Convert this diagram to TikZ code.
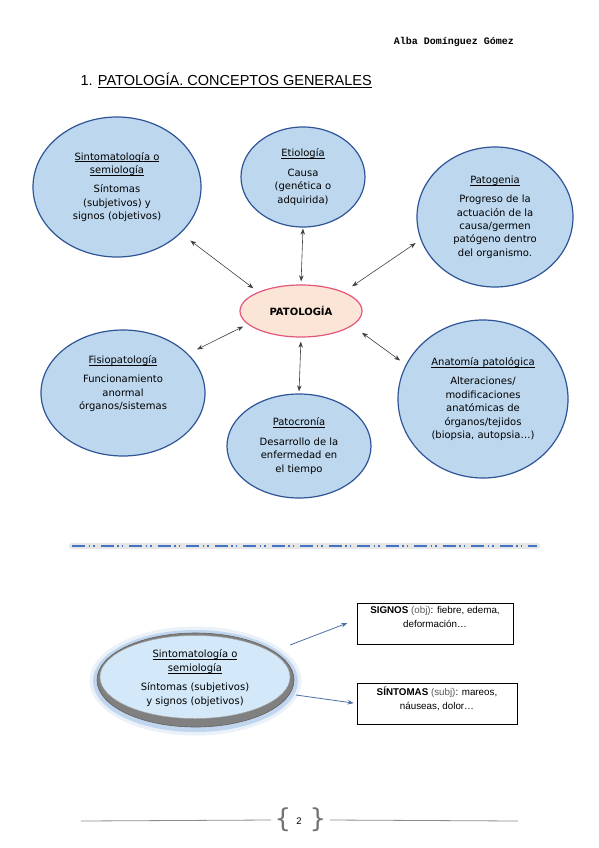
\documentclass[tikz,border=0pt]{standalone}
\usepackage{fontspec}
\setmainfont{DejaVu Sans}
\newfontfamily\arialfont{Liberation Sans}
\newfontfamily\courierfont{Liberation Mono}
\usetikzlibrary{shapes.geometric,arrows.meta,positioning}
\definecolor{ovalfill}{HTML}{BDD7EE}
\definecolor{ovalline}{HTML}{2F5597}
\definecolor{patofill}{HTML}{FBE5D6}
\definecolor{patoline}{HTML}{E4567C}
\definecolor{sepblue}{HTML}{4472C4}
\definecolor{linkblue}{HTML}{4A6FA5}
\definecolor{glowblue}{HTML}{8DB4E2}
\definecolor{semiofill}{HTML}{D3E8F8}
\newcommand\subr[1]{\leavevmode\setbox0=\hbox{#1}\rlap{\rule[-1.8pt]{\wd0}{0.5pt}}\box0}

\begin{document}
\begin{tikzpicture}[x=1pt,y=-1pt,
    oval/.style={ellipse, draw=ovalline, fill=ovalfill, line width=1.2pt,
      align=center, inner sep=0pt, font=\fontsize{10}{13.4}\selectfont},
    link/.style={{Stealth[length=6pt,width=4.5pt]}-{Stealth[length=6pt,width=4.5pt]},
      draw=black!75, line width=.6pt},
    bluelink/.style={-{Stealth[length=6pt,width=4.5pt]}, draw=linkblue, line width=.8pt},
    infobox/.style={draw=black, line width=.8pt, minimum height=41pt},
    boxtext/.style={align=center, anchor=north, inner sep=0pt,
      font=\arialfont\fontsize{9.8}{14}\selectfont},
  ]
  % \draw[help lines, gray!50, very thin] (0,0) grid[step=50] (599,848);
  \useasboundingbox[fill=white] (0,0) rectangle (599,848);

  % cabecera
  \node[font=\courierfont\bfseries\fontsize{10}{10}\selectfont] (autora) at (454,42) {Alba Domínguez Gómez};
  \node[anchor=west, font=\arialfont\fontsize{14.5}{16}\selectfont] (titulo) at (77,80)
    {1. \subr{PATOLOGÍA. CONCEPTOS GENERALES}};

  % esquema central
  \node[ellipse, draw=patoline, fill=patofill, line width=1.2pt, minimum width=122pt, minimum height=52pt,
    font=\bfseries\fontsize{10}{11}\selectfont] (pato) at (301,311) {PATOLOGÍA};

  \node[oval, minimum width=168pt, minimum height=140pt] (sinto) at (117,187)
    {\subr{Sintomatología o}\\ \subr{semiología}\\[6pt] Síntomas\\ (subjetivos) y\\ signos (objetivos)};
  \node[oval, minimum width=124pt, minimum height=100pt] (etio) at (303,177)
    {\subr{Etiología}\\[6pt] Causa\\ (genética o\\ adquirida)};
  \node[oval, minimum width=156pt, minimum height=140pt] (patog) at (495,217)
    {\subr{Patogenia}\\[6pt] Progreso de la\\ actuación de la\\ causa/germen\\ patógeno dentro\\ del organismo.};
  \node[oval, minimum width=164pt, minimum height=126pt] (fisio) at (123,393)
    {\subr{Fisiopatología}\\[6pt] Funcionamiento\\ anormal\\ órganos/sistemas\\[8pt]};
  \node[oval, minimum width=170pt, minimum height=158pt] (anat) at (483,399)
    {\subr{Anatomía patológica}\\[6pt] Alteraciones/\\ modificaciones\\ anatómicas de\\ órganos/tejidos\\ (biopsia, autopsia\ldots)};
  \node[oval, minimum width=144pt, minimum height=104pt] (patocr) at (299,446)
    {\subr{Patocronía}\\[6pt] Desarrollo de la\\ enfermedad en\\ el tiempo};

  \draw[link, shorten <=12pt, shorten >=6pt] (sinto.-36) -- (pato.156);
  \draw[link, shorten <=1pt, shorten >=3pt] (etio.south) -- (pato.north);
  \draw[link, shorten <=10pt, shorten >=6pt] (pato.24) -- (patog.197);
  \draw[link, shorten <=10pt, shorten >=5pt] (fisio.31) -- (pato.194);
  \draw[link, shorten <=12pt, shorten >=7pt] (pato.-16) -- (anat.156);
  \draw[link, shorten <=4pt, shorten >=2pt] (pato.south) -- (patocr.north);

  % separador
  \coordinate (sepa) at (72,546);
  \coordinate (sepb) at (537,546);
  \draw[gray!20, line width=6pt, line cap=round] (sepa) -- (sepb);
  \draw[sepblue, line width=2.5pt, dash pattern=on 13pt off 3.5pt on 1.5pt off 3pt on 1.5pt off 6pt] (sepa) -- (sepb);

  % sintomatologia: signos y sintomas
  \node[ellipse, fill=glowblue, opacity=.18, minimum width=212pt, minimum height=109pt] (semioglow) at (195.5,681) {};
  \node[ellipse, fill=glowblue, opacity=.45, minimum width=205pt, minimum height=102pt] (semiohalo) at (195.5,681) {};
  \node[ellipse, fill=black!50, draw=black!62, line width=.6pt, minimum width=197pt, minimum height=94pt] (semioring) at (195.5,680) {};
  \node[ellipse, fill=semiofill, draw=black!35, line width=.4pt, minimum width=190pt, minimum height=83pt] (semio) at (195,677) {};
  \node[align=center, font=\fontsize{10}{13.4}\selectfont] (semiotxt) at (195,678)
    {\subr{Sintomatología o}\\ \subr{semiología}\\[6pt] Síntomas (subjetivos)\\ y signos (objetivos)};

  \node[infobox, minimum width=156pt] (signos) at (435,623.5) {};
  \node[boxtext, below=4pt of signos.north] (signostxt)
    {\textbf{SIGNOS} {\color{black!65}(obj)}: fiebre, edema,\\ deformación\ldots};
  \node[infobox, minimum width=160pt] (sintomas) at (437,703.5) {};
  \node[boxtext, below=4pt of sintomas.north] (sintomastxt)
    {\textbf{SÍNTOMAS} {\color{black!65}(subj)}: mareos,\\ náuseas, dolor\ldots};

  \coordinate (sigfrom) at (290,645);
  \coordinate (symfrom) at (296,695);
  \draw[bluelink, shorten >=10pt] (sigfrom) -- ([yshift=4pt]signos.west);
  \draw[bluelink, shorten >=3pt] (symfrom) -- (sintomas.west);

  % pie de pagina
  \node[text=black!55, font=\fontsize{26}{26}\selectfont] (llavea) at (283,820) {\{};
  \node[text=black!55, font=\fontsize{26}{26}\selectfont] (llaveb) at (318,820) {\}};
  \node[font=\arialfont\fontsize{9.5}{11}\selectfont] (pagina) at (299,821) {2};
  \coordinate (piea) at (81,821);
  \coordinate (pieb) at (518,821);
  \draw[black!45, line width=.8pt] (piea) -- (llavea.west);
  \draw[black!45, line width=.8pt] (llaveb.east) -- (pieb);
\end{tikzpicture}
\end{document}
